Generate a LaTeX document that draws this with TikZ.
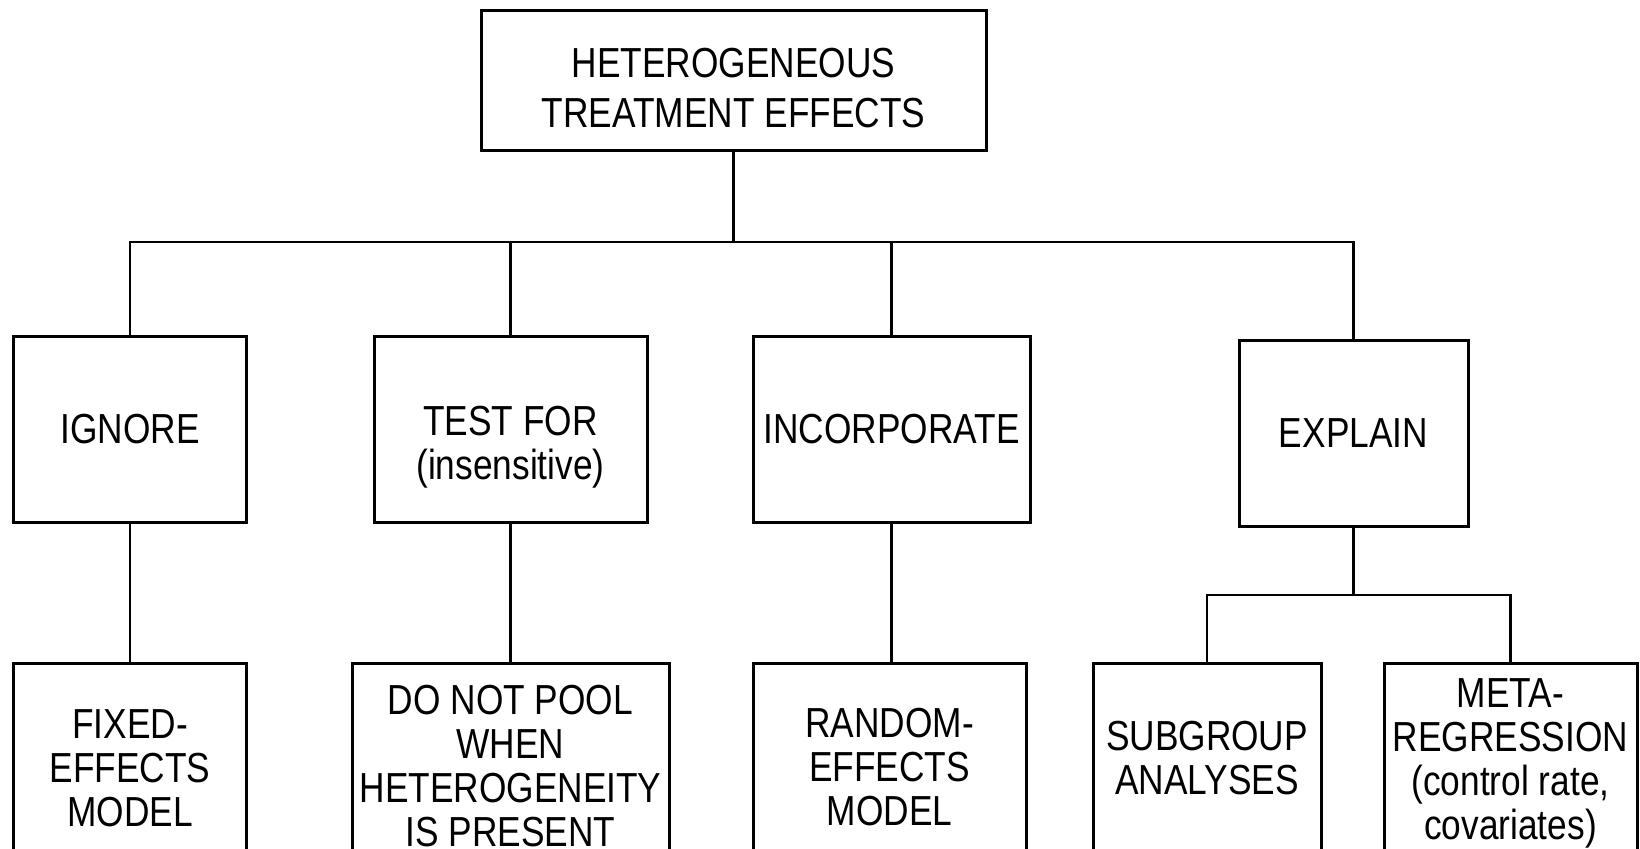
\documentclass[tikz,border=0pt]{standalone}
\usepackage{fontspec}
\setmainfont{Liberation Sans}[FakeStretch=0.84]
\begin{document}
\begin{tikzpicture}[x=0.5pt,y=-0.5pt,
  box/.style={draw, line width=1.5pt, inner sep=0pt, align=center},
  txt/.style={inner sep=0pt, align=center},
  topfont/.style={font=\fontsize{21pt}{25pt}\selectfont},
  lowfont/.style={font=\fontsize{21pt}{22pt}\selectfont},
  conn/.style={line width=1.4pt}]
\useasboundingbox (0,0) rectangle (1640,848);
\clip (0,0) rectangle (1640,848);
\fill[white] (0,0) rectangle (1640,848);
% top
\node[box,minimum width=505*0.5pt,minimum height=140*0.5pt] (top) at (733.5,80) {};
\node[txt,topfont] (toptext) at ([yshift=-4pt]top.center) {HETEROGENEOUS\\TREATMENT EFFECTS};
% row 2
\node[box,lowfont,minimum width=233*0.5pt,minimum height=186*0.5pt] (ignore) at (130,429) {IGNORE};
\node[box,minimum width=273*0.5pt,minimum height=186*0.5pt] (test) at (510.5,429) {};
\node[txt,lowfont] (testtext) at ([yshift=-9pt]test.center) {TEST FOR\\(insensitive)};
\node[box,lowfont,minimum width=277*0.5pt,minimum height=186*0.5pt] (incorp) at (891.5,429) {INCORPORATE};
\node[box,lowfont,minimum width=229*0.5pt,minimum height=186*0.5pt] (explain) at (1353.5,433) {EXPLAIN};
% row 3 (bottom edges fall below the picture)
\node[box,lowfont,minimum width=233*0.5pt,minimum height=210*0.5pt] (fixed) at (130,768) {FIXED-\\EFFECTS\\MODEL};
\node[box,lowfont,minimum width=317*0.5pt,minimum height=206*0.5pt] (donot) at (510.5,766) {DO NOT POOL\\WHEN\\HETEROGENEITY\\IS PRESENT};
\node[box,lowfont,minimum width=273*0.5pt,minimum height=208*0.5pt] (random) at (889.5,767) {RANDOM-\\EFFECTS\\MODEL};
\node[box,lowfont,minimum width=228*0.5pt,minimum height=190*0.5pt] (subgroup) at (1207,758) {SUBGROUP\\ANALYSES};
\node[box,lowfont,minimum width=253*0.5pt,minimum height=200*0.5pt] (meta) at (1510.5,763) {META-\\REGRESSION\\(control rate,\\covariates)};
% connectors
\coordinate (bus) at (733.5,242);
\coordinate (sub) at (1353.5,595);
\draw[conn] (top.south) -- (bus);
\draw[conn] (ignore.north) |- (explain.north |- bus) -- (explain.north);
\draw[conn] (test.north) -- (test.north |- bus);
\draw[conn] (incorp.north) -- (incorp.north |- bus);
\draw[conn] (ignore.south) -- (fixed.north);
\draw[conn] (test.south) -- (donot.north);
\draw[conn] (incorp.south) -- (incorp.south |- random.north);
\draw[conn] (explain.south) -- (sub);
\draw[conn] (subgroup.north) |- (sub) -| (meta.north);
\end{tikzpicture}
\end{document}
